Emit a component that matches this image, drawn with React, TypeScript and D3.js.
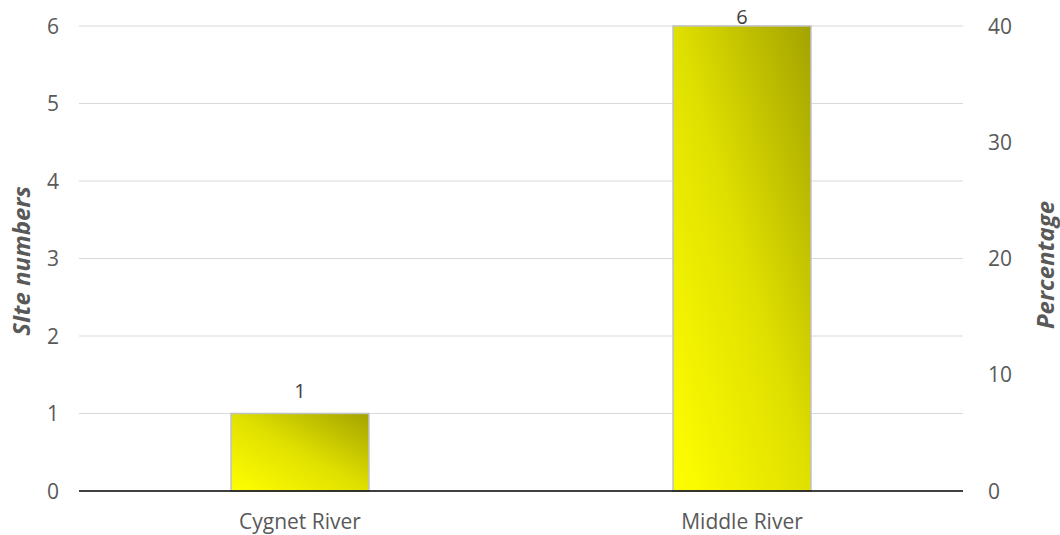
import React from "react";
import * as d3 from "d3";

const categories = ["Cygnet River", "Middle River"];
const siteCounts = [1, 6];
const leftTicks = [0, 1, 2, 3, 4, 5, 6];
const rightTicks = [0, 10, 20, 30, 40];

const W = 1060;
const H = 535;
const M = { left: 79, right: 97, top: 26, bottom: 44 };

export default function App() {
  const x = d3
    .scaleBand<string>()
    .domain(categories)
    .range([M.left, W - M.right])
    .paddingInner(0.688)
    .paddingOuter(0.344);
  const y = d3.scaleLinear().domain([0, 6]).range([H - M.bottom, M.top]);
  const yRight = d3.scaleLinear().domain([0, 40]).range([H - M.bottom, M.top]);
  const font = "'Open Sans', 'Liberation Sans', sans-serif";

  return (
    <svg
      width={W}
      height={H}
      style={{ position: "absolute", left: 0, top: 0, background: "#fff" }}
      fontFamily={font}
    >
      <defs>
        <linearGradient id="barFill" x1="0" y1="1" x2="1" y2="0">
          <stop offset="0" stopColor="#ffff00" />
          <stop offset="0.5" stopColor="#e0e000" />
          <stop offset="1" stopColor="#a3a300" />
        </linearGradient>
      </defs>

      {/* gridlines */}
      {leftTicks.slice(1).map((t) => (
        <line
          key={t}
          x1={M.left}
          x2={W - M.right}
          y1={y(t)}
          y2={y(t)}
          stroke="#d9d9d9"
          strokeWidth={1}
        />
      ))}

      {/* bars */}
      {categories.map((c, i) => (
        <g key={c}>
          <rect
            x={x(c)}
            y={y(siteCounts[i])}
            width={x.bandwidth()}
            height={y(0) - y(siteCounts[i])}
            fill="url(#barFill)"
            stroke="#c0c0c0"
            strokeWidth={1.5}
          />
          <text
            x={x(c)! + x.bandwidth() / 2}
            y={Math.max(y(siteCounts[i]) - 16, 24)}
            textAnchor="middle"
            fontSize={20}
            fill="#404040"
          >
            {siteCounts[i]}
          </text>
          <text
            x={x(c)! + x.bandwidth() / 2}
            y={529}
            textAnchor="middle"
            fontSize={21}
            fill="#595959"
          >
            {c}
          </text>
        </g>
      ))}

      {/* baseline */}
      <line
        x1={M.left}
        x2={W - M.right}
        y1={y(0)}
        y2={y(0)}
        stroke="#000"
        strokeWidth={1.5}
      />

      {/* left axis labels */}
      {leftTicks.map((t) => (
        <text
          key={t}
          x={59}
          y={y(t)}
          dy="0.36em"
          textAnchor="end"
          fontSize={21}
          fill="#595959"
        >
          {t}
        </text>
      ))}

      {/* right axis labels */}
      {rightTicks.map((t) => (
        <text
          key={t}
          x={988}
          y={yRight(t)}
          dy="0.36em"
          textAnchor="start"
          fontSize={21}
          fill="#595959"
        >
          {t}
        </text>
      ))}

      {/* axis titles */}
      <text
        transform={`translate(22,261) rotate(-90)`}
        dy="0.35em"
        textAnchor="middle"
        fontSize={24}
        fontWeight="bold"
        fontStyle="italic"
        fill="#595959"
      >
        SIte numbers
      </text>
      <text
        transform={`translate(1046,265) rotate(-90)`}
        dy="0.35em"
        textAnchor="middle"
        fontSize={24}
        fontWeight="bold"
        fontStyle="italic"
        fill="#595959"
      >
        Percentage
      </text>
    </svg>
  );
}
